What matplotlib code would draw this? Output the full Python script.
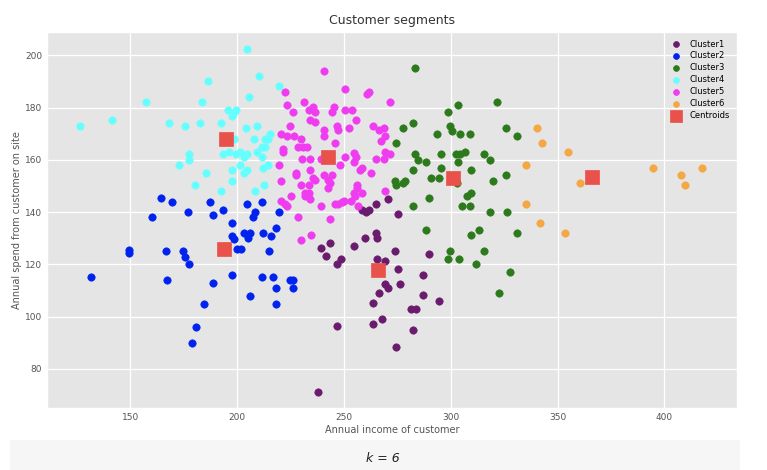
import matplotlib
matplotlib.use("Agg")
import matplotlib.pyplot as plt
from matplotlib.patches import Rectangle

# (annual income, annual spend) per cluster
cluster1 = [(264.8, 143.2), (270.4, 145.1), (258.6, 140.8), (260.3, 140.1), (261.7, 140.8),
            (275.4, 139.2), (264.8, 132.2), (265.6, 130), (259.8, 130), (254.5, 127.1),
            (243.4, 128.3), (239.4, 126.3), (241.6, 123.2), (248.4, 122.1), (246.6, 120.3),
            (265.6, 122.1), (269.3, 121.3), (273.8, 125.1), (275.4, 118.2), (269.3, 112.3),
            (270.4, 111), (266.5, 109.2), (276.2, 112.3), (263.7, 105.1), (267.6, 99.2),
            (263.7, 97.2), (246.6, 96.3), (274.6, 88.2), (237.7, 71), (289.6, 124.1),
            (286.8, 116), (286.8, 108.1), (294.7, 106), (281.5, 103.1), (283.7, 103.1),
            (282.4, 95)]
cluster2 = [(164.3, 145.3), (169.5, 144), (160.3, 138), (177.2, 140), (187.4, 144),
            (188.5, 139), (193.6, 141), (204.5, 143), (211.5, 144), (208.4, 140),
            (207.6, 138), (219.5, 140), (197.5, 136), (197.5, 131), (198.7, 129.8),
            (203, 132), (206, 132), (205, 130), (212, 132), (216, 131), (218, 134),
            (200, 126), (202, 126), (214.7, 125), (149.5, 125.5), (149.5, 124.5),
            (166.5, 125), (174.6, 125), (175.7, 123), (177.5, 120), (131.5, 115),
            (167.4, 114), (188.5, 113), (197.5, 116), (211.7, 115), (216.6, 115),
            (224.9, 114), (226, 114), (218, 111), (226, 111), (205.8, 108),
            (184.4, 105), (218, 105), (180.7, 96), (179, 90)]
cluster3 = [(283.5, 195.1), (303.6, 181.2), (321.7, 182), (298.6, 178.2), (277.7, 172.2),
            (282.4, 174.2), (299.7, 173.1), (300.6, 171.2), (293.6, 170.1), (304.5, 170.1),
            (308.9, 170.1), (325.7, 172.2), (330.9, 169.2), (274.3, 166.3), (283.5, 162.2),
            (284.6, 160.1), (288.6, 159.1), (295.6, 162.2), (302.5, 162.2), (304.5, 162.2),
            (306.7, 163), (303.6, 159.1), (315.7, 162.2), (318.6, 160.1), (282.4, 156.2),
            (295.6, 157), (309.5, 156.2), (273.7, 152.1), (274.6, 150.3), (277.7, 151.2),
            (278.5, 152.1), (290.7, 153.2), (294.7, 153.2), (302.7, 151), (319.6, 152.1),
            (325.7, 154.1), (307.6, 146.2), (309.5, 147.3), (289.6, 145.3), (282.4, 142.3),
            (305.5, 142.3), (308.9, 142.3), (318.6, 140.1), (326.5, 140.1), (288.6, 133.1),
            (309.5, 131.3), (313.4, 133.1), (330.9, 132.2), (299.7, 125.1), (298.6, 122.1),
            (303.7, 122.1), (315.7, 125.1), (311.7, 120.3), (327.6, 117.1), (322.4, 109.2)]
cluster4 = [(126.3, 173.1), (141.4, 175.3), (157.4, 182), (168.3, 174.2), (175.4, 173.1),
            (182.4, 174.2), (183.5, 182), (186.6, 190.1), (192.3, 174.2), (195.5, 179.1),
            (197.5, 177), (199.5, 179.1), (198.7, 178.2), (204.5, 202.3), (210.4, 192.2),
            (219.6, 188.2), (205.4, 184.1), (204.3, 172.2), (209.5, 173.1), (215.4, 170.1),
            (213.2, 168.1), (214.6, 168.1), (207.8, 168.1), (198.7, 168.1), (211.5, 165.1),
            (213.2, 165.1), (193.6, 162.2), (196.4, 163.1), (199.5, 162.2), (201.4, 163.1),
            (203.3, 161.3), (204.5, 162.2), (209.5, 163.1), (211.5, 161.3), (177.4, 162.2),
            (177.4, 160.1), (172.6, 158.2), (185.5, 155), (197.5, 156.2), (201.4, 158.2),
            (203.3, 155), (204.5, 156.2), (212.3, 157), (214.6, 158.2), (180.5, 150.3),
            (197.5, 152), (212.4, 150.3), (192.3, 148.2), (208.4, 148.2)]
cluster5 = [(222.4, 186.2), (223.5, 181.2), (226.3, 178.2), (231.4, 182), (233.8, 179.2),
            (235.3, 180.3), (236.6, 178.2), (240.5, 194.2), (245.5, 180.3), (244.4, 178.2),
            (250.6, 187), (250.6, 179.1), (253.6, 179.1), (260.6, 185.4), (261.5, 186.2),
            (271.5, 182), (224.6, 173.1), (220.5, 170.1), (223.5, 169.2), (226.6, 169.2),
            (229.7, 168.1), (234.3, 175.3), (236.6, 174.4), (240.5, 171.3), (240.5, 169.2),
            (246.6, 173.1), (247.3, 171.3), (252.3, 172.2), (255.6, 175.3), (263.4, 173.1),
            (266.5, 171.3), (268.8, 172.2), (267.3, 167.2), (269.3, 169.2), (245.6, 166.3),
            (221.3, 164.2), (221.3, 163.1), (228.3, 165.1), (231, 165.1), (232.5, 165.1),
            (230.3, 160.3), (234.3, 160.3), (239.2, 160.3), (250.6, 161.3), (254.5, 162.8),
            (255.6, 161.3), (264.8, 160.3), (268.8, 160.3), (269.3, 163.1), (271.5, 162.2),
            (219.5, 158.2), (227.6, 154.9), (227.6, 154.1), (234.3, 156.2), (235.3, 153.2),
            (236.6, 152.3), (240.5, 154.1), (244.4, 154.1), (248.3, 158.2), (254.5, 159.1),
            (257.5, 156.2), (258.6, 157), (262.6, 155), (242.7, 152.3), (243.4, 151.2),
            (220.5, 152), (229.7, 150.3), (233.8, 150.3), (242.7, 149.1), (255.9, 150.3),
            (256.2, 149.1), (254.5, 147.2), (255, 146.2), (258.6, 147.2), (269.3, 148.2),
            (225.4, 146.2), (231.8, 147.2), (233.5, 147.2), (231.8, 146.2), (234.3, 145.1),
            (220.5, 144.1), (222.4, 143.2), (223.5, 142.3), (239.4, 142.3), (245.6, 143.2),
            (247.3, 143.2), (249, 143.8), (249.8, 144.1), (253.4, 144.1), (256.7, 142.3),
            (228.6, 138.1), (243.4, 137.2), (234.4, 131.3), (229.7, 129.2)]
cluster6 = [(340.5, 172.2), (342.7, 166.3), (354.7, 163), (335.4, 158.2), (360.6, 151.2),
            (394.7, 157), (407.7, 154.1), (409.8, 150.3), (417.8, 157), (335.4, 143.1),
            (341.6, 136), (353.6, 132.1)]
centroids = [(266, 118), (194, 126), (301, 153), (195, 168), (242.5, 161), (366, 153.5)]

clusters = [cluster1, cluster2, cluster3, cluster4, cluster5, cluster6]
labels = ["Cluster1", "Cluster2", "Cluster3", "Cluster4", "Cluster5", "Cluster6"]
colors = ["#6a1b6e", "#0022ee", "#2d7a1c", "#66ffff", "#f03cf0", "#f4a742"]

plt.style.use("ggplot")
fig = plt.figure(figsize=(7.67, 4.70), dpi=100)
fig.patch.set_facecolor("white")
ax = fig.add_axes([47 / 767, 1 - 408 / 470, 690 / 767, 376 / 470])

for pts, lab, col in zip(clusters, labels, colors):
    xs = [p[0] for p in pts]
    ys = [p[1] for p in pts]
    ax.scatter(xs, ys, s=28, c=col, label=lab)
ax.scatter([p[0] for p in centroids], [p[1] for p in centroids], s=110, marker="s",
           c="#e8524a", label="Centroids")

ax.set_xlim(111, 434)
ax.set_ylim(65, 209)
ax.set_xticks([150, 200, 250, 300, 350, 400])
ax.set_yticks([80, 100, 120, 140, 160, 180, 200])
ax.tick_params(labelsize=6.5, colors="#555555", length=0)
ax.set_title("Customer segments", fontsize=9, color="#333333")
ax.set_xlabel("Annual income of customer", fontsize=7, color="#555555", labelpad=2)
ax.set_ylabel("Annual spend from customer on site", fontsize=7, color="#555555", labelpad=2)
ax.grid(color="white", lw=0.9)
ax.legend(loc="upper right", fontsize=6, frameon=False, handletextpad=0.6,
          labelspacing=0.35, markerscale=0.8)

# caption strip under the chart
fig.patches.append(Rectangle((10 / 767, 0), 730 / 767, 30 / 470, transform=fig.transFigure,
                             facecolor="#f6f6f6", edgecolor="none"))
fig.text(383 / 767, 12 / 470, "k = 6", ha="center", va="center", fontsize=9,
         style="italic", color="#222222")

fig.savefig("out.png", dpi=100)
